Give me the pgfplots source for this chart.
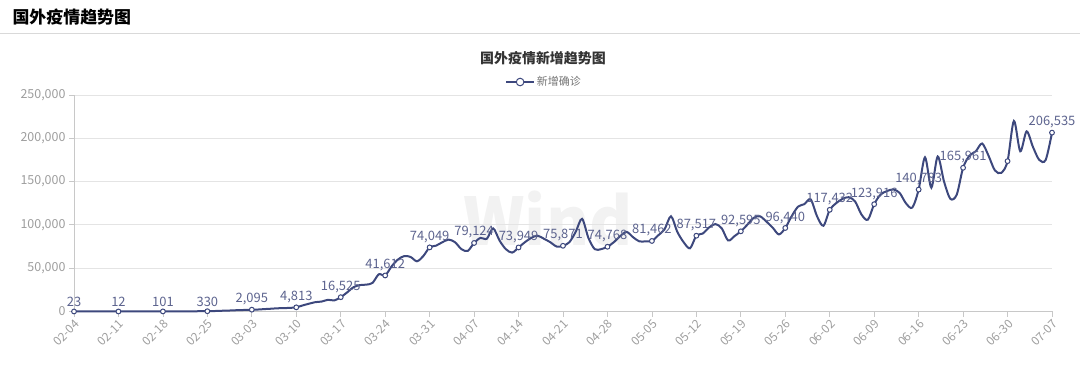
\documentclass[border=0pt]{standalone}
\usepackage{fontspec}
\setmainfont{Noto Sans CJK SC}
\usepackage{pgfplots}
\usepackage{pgfplotstable}
\pgfplotsset{compat=1.18}
\definecolor{linecol}{RGB}{61,72,125}
\definecolor{labcol}{RGB}{92,99,142}
\definecolor{tickcol}{RGB}{160,160,160}
\definecolor{axcol}{RGB}{200,200,200}
\definecolor{gridcol}{RGB}{228,228,228}
\pgfplotstableread{
x y label
0 23 23
7 12 12
14 101 101
21 330 330
28 2095 2,095
35 4813 4,813
42 16525 16,525
49 41612 41,612
56 74049 74,049
63 79124 79,124
70 73949 73,949
77 75871 75,871
84 74768 74,768
91 81462 81,462
98 87517 87,517
105 92595 92,595
112 96440 96,440
119 117432 117,432
126 123916 123,916
133 140783 140,783
140 165961 165,961
154 206535 206,535
}\weekly
\begin{document}
\begin{tikzpicture}
\useasboundingbox (0,0) rectangle (1080bp,371bp);
\node[anchor=west,font=\fontsize{17}{20}\selectfont\bfseries,text=black] at (9bp,354bp) {国外疫情趋势图};
\draw[color=black!15,line width=1bp] (0,337bp) -- (1080bp,337bp);
\node[font=\fontsize{14}{16}\selectfont\bfseries,text=black!80] at (543bp,313bp) {国外疫情新增趋势图};
\node[font=\fontsize{66}{70}\selectfont\bfseries,text=black!5] at (548bp,152bp) {Wind};
\begin{axis}[
  at={(74bp,59.5bp)}, anchor=south west,
  scale only axis, width=978bp, height=216.5bp,
  xmin=0, xmax=154, ymin=0, ymax=250000,
  clip=false,
  axis x line*=bottom, axis y line*=left,
  axis line style={color=axcol, line width=1bp},
  xtick={0,7,...,154},
  xticklabels={02-04,02-11,02-18,02-25,03-03,03-10,03-17,03-24,03-31,04-07,04-14,04-21,04-28,05-05,05-12,05-19,05-26,06-02,06-09,06-16,06-23,06-30,07-07},
  x tick label style={rotate=45, anchor=north east, font=\fontsize{12}{13}\selectfont, text=black!38, inner sep=1.5bp},
  ytick={0,50000,100000,150000,200000,250000},
  yticklabels={0,{50,000},{100,000},{150,000},{200,000},{250,000}},
  y tick label style={font=\fontsize{12.5}{13}\selectfont, text=black!38},
  scaled y ticks=false,
  tick align=outside, major tick length=5bp,
  tick style={color=axcol, line width=0.8bp},
  ymajorgrids, grid style={color=gridcol, line width=0.8bp},
  legend style={draw=none, fill=none, at={(0.4806,1.06)}, anchor=center, font=\fontsize{11}{12}\selectfont, text=black!55, inner sep=0pt},
  legend image code/.code={
    \draw[#1, mark repeat=2, mark phase=2, mark size=3.8bp, line width=1.6bp] plot coordinates {(0bp,0bp) (14bp,0bp) (28bp,0bp)};
  },
]
\addplot[color=linecol, line width=2bp, smooth, tension=0.5,
  mark=*, mark repeat=7, mark size=2.4bp,
  mark options={fill=white, draw=linecol, line width=1bp}]
coordinates {
(0,23) (1,50) (2,40) (3,30) (4,20) (5,15) (6,10) (7,12) (8,20) (9,40)
(10,50) (11,60) (12,80) (13,90) (14,101) (15,110) (16,150) (17,200) (18,250) (19,280)
(20,300) (21,330) (22,500) (23,800) (24,1000) (25,1300) (26,1600) (27,1800) (28,2095) (29,2300)
(30,2800) (31,3200) (32,3700) (33,3900) (34,4200) (35,4813) (36,7000) (37,9000) (38,10800) (39,11500)
(40,13500) (41,12800) (42,16525) (43,22000) (44,28000) (45,30500) (46,31000) (47,33000) (48,43000) (49,41612)
(50,52000) (51,60000) (52,64000) (53,63000) (54,58000) (55,64000) (56,74049) (57,76000) (58,80000) (59,83000)
(60,80000) (61,72000) (62,70000) (63,79124) (64,85000) (65,84000) (66,96000) (67,82000) (68,72000) (69,68000)
(70,73949) (71,80000) (72,85000) (73,87500) (74,84000) (75,80000) (76,75000) (77,75871) (78,80000) (79,92000)
(80,107000) (81,85000) (82,72000) (83,72000) (84,74768) (85,80000) (86,87000) (87,92000) (88,86000) (89,81000)
(90,81000) (91,81462) (92,88000) (93,95000) (94,110000) (95,92000) (96,80000) (97,73000) (98,87517) (99,90000)
(100,97000) (101,101000) (102,96000) (103,82000) (104,87000) (105,92595) (106,100000) (107,108000) (108,110000) (109,104000)
(110,97000) (111,89000) (112,96440) (113,110000) (114,121000) (115,124000) (116,129500) (117,110000) (118,99000) (119,117432)
(120,125000) (121,130000) (122,132000) (123,127000) (124,112000) (125,106000) (126,123916) (127,135000) (128,139000) (129,141000)
(130,137000) (131,125000) (132,120000) (133,140783) (134,178000) (135,143000) (136,179000) (137,150000) (138,130000) (139,135000)
(140,165961) (141,180000) (142,185000) (143,194000) (144,180000) (145,163000) (146,160000) (147,173600) (148,220000) (149,185000)
(150,208000) (151,190000) (152,175000) (153,175000) (154,206535)
};
\addlegendentry{新增确诊}
\addplot[draw=none, mark=none, forget plot,
  point meta=explicit symbolic,
  nodes near coords,
  every node near coord/.append style={font=\fontsize{13}{14}\selectfont, text=labcol, anchor=south, yshift=1bp}]
table[x=x, y=y, meta=label] {\weekly};
\end{axis}
\end{tikzpicture}
\end{document}
